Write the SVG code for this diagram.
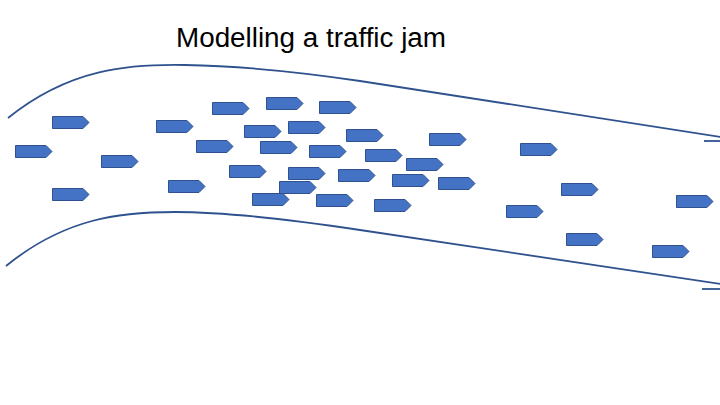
<svg xmlns="http://www.w3.org/2000/svg" xmlns:xlink="http://www.w3.org/1999/xlink" width="720" height="405" viewBox="0 0 720 405">
  <style>
    .road { fill: none; stroke: #2F528F; stroke-width: 1.8; }
    .car { fill: #4472C4; stroke: #2F528F; stroke-width: 1; }
    .title { font-family: "Liberation Sans", Arial, sans-serif; font-size: 27px; fill: #000; }
  </style>
  <defs>
    <path id="car" class="car" d="M0.5,0.5 H31 L37,6.5 L31,12.5 H0.5 Z"/>
  </defs>
  <rect width="720" height="405" fill="#fff"/>
  <g id="title">
    <text class="title" x="176" y="46.5" textLength="270" lengthAdjust="spacingAndGlyphs">Modelling a traffic jam</text>
  </g>
  <g id="road">
    <path class="road" d="M8,118 C70,68 130,64 185,65 S300,72 360,81 L721,137"/>
    <path class="road" d="M704,141 H721"/>
    <path class="road" d="M6,266 C65,218 120,212 175,212 S300,221 360,230 L721,284"/>
    <path class="road" d="M702,289 H721"/>
  </g>
  <g id="cars">
    <g id="car1"><use href="#car" x="52" y="116"/></g>
    <g id="car2"><use href="#car" x="15" y="145"/></g>
    <g id="car3"><use href="#car" x="52" y="188"/></g>
    <g id="car4"><use href="#car" x="101" y="155"/></g>
    <g id="car5"><use href="#car" x="156" y="120"/></g>
    <g id="car6"><use href="#car" x="196" y="140"/></g>
    <g id="car7"><use href="#car" x="168" y="180"/></g>
    <g id="car8"><use href="#car" x="212" y="102"/></g>
    <g id="car9"><use href="#car" x="266" y="97"/></g>
    <g id="car10"><use href="#car" x="319" y="101"/></g>
    <g id="car11"><use href="#car" x="244" y="125"/></g>
    <g id="car12"><use href="#car" x="288" y="121"/></g>
    <g id="car13"><use href="#car" x="346" y="129"/></g>
    <g id="car14"><use href="#car" x="260" y="141"/></g>
    <g id="car15"><use href="#car" x="309" y="145"/></g>
    <g id="car16"><use href="#car" x="365" y="149"/></g>
    <g id="car17"><use href="#car" x="229" y="165"/></g>
    <g id="car18"><use href="#car" x="288" y="167"/></g>
    <g id="car19"><use href="#car" x="338" y="169"/></g>
    <g id="car20"><use href="#car" x="279" y="181"/></g>
    <g id="car21"><use href="#car" x="252" y="193"/></g>
    <g id="car22"><use href="#car" x="316" y="194"/></g>
    <g id="car23"><use href="#car" x="374" y="199"/></g>
    <g id="car24"><use href="#car" x="429" y="133"/></g>
    <g id="car25"><use href="#car" x="406" y="158"/></g>
    <g id="car26"><use href="#car" x="392" y="174"/></g>
    <g id="car27"><use href="#car" x="438" y="177"/></g>
    <g id="car28"><use href="#car" x="520" y="143"/></g>
    <g id="car29"><use href="#car" x="506" y="205"/></g>
    <g id="car30"><use href="#car" x="561" y="183"/></g>
    <g id="car31"><use href="#car" x="566" y="233"/></g>
    <g id="car32"><use href="#car" x="676" y="195"/></g>
    <g id="car33"><use href="#car" x="652" y="245"/></g>
  </g>
</svg>
